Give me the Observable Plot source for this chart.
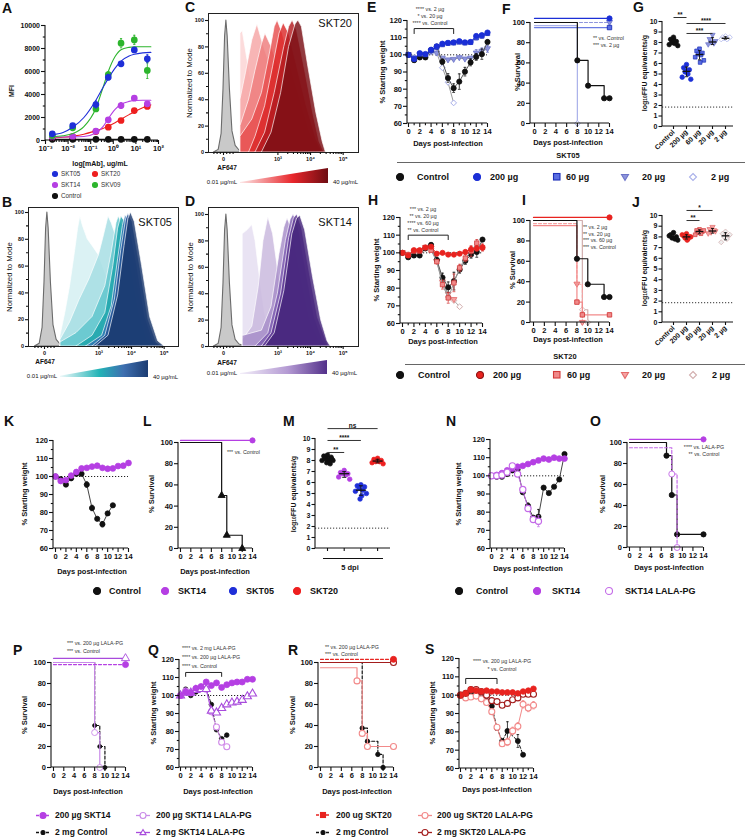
<!DOCTYPE html>
<html>
<head>
<meta charset="utf-8">
<script src="https://cdn.jsdelivr.net/npm/d3@7"></script>
<script src="https://cdn.jsdelivr.net/npm/@observablehq/plot@0.6"></script>
<style>
html,body{margin:0;padding:0;background:#fff;}
#root{position:relative;width:745px;height:840px;overflow:hidden;background:#fff;font-family:'Liberation Sans',Arial,Helvetica,sans-serif;color:#111;}
.t{position:absolute;white-space:nowrap;line-height:1;}
.t sub{font-size:70%;vertical-align:-0.2em;line-height:0;}
</style>
</head>
<body>
<div id="root"></div>
<script>
// ======================= DATA =======================
// Panel A (MFI binding curves)
const A_conc = [0.002, 0.016, 0.17, 0.6, 2.2, 8.5, 32];
const A_SKT05 = [580, 1300, 3130, 5500, 6670, 7880, 7100];
const A_SKT05_err = [80, 120, 300, 250, 150, 200, 350];
const A_SKV09 = [430, 1100, 2750, 5740, 8460, 8750, 6090];
const A_SKV09_err = [60, 100, 150, 250, 400, 400, 700];
const A_SKT14 = [290, 350, 810, 1800, 3040, 3680, 3190];
const A_SKT14_err = [40, 40, 80, 150, 250, 150, 120];
const A_SKT20 = [290, 350, 780, 1160, 1740, 2600, 2960];
const A_SKT20_err = [40, 40, 60, 80, 100, 100, 150];
const A_Control = [100, 100, 100, 100, 100, 100, 100];
const A_fitConc = [0.0018, 0.006, 0.016, 0.05, 0.17, 0.35, 0.6, 1.2, 2.2, 5, 8.5, 20, 46];
const A_fit_SKT05 = [500, 700, 1150, 2000, 3500, 4600, 5400, 6300, 6900, 7350, 7500, 7620, 7660];
const A_fit_SKV09 = [340, 420, 600, 1200, 2800, 4600, 6000, 7300, 7900, 8100, 8150, 8150, 8150];
const A_fit_SKT14 = [300, 300, 310, 350, 650, 1200, 1900, 2700, 3150, 3400, 3480, 3500, 3500];
const A_fit_SKT20 = [220, 280, 380, 550, 850, 1050, 1250, 1550, 1850, 2250, 2500, 2850, 3100];
const A_ticks = [0.001, 0.01, 0.1, 1, 10, 100];
const A_tickLabels = ["10⁻³", "10⁻²", "10⁻¹", "10⁰", "10¹", "10²"];
const A_yTicks = [0, 2000, 4000, 6000, 8000, 10000];

// Flow histograms (x in display units: 0 = "0", 1.7 = 10³, 2.72 = 10⁴, 3.74 = 10⁵)
const H_ticks = [0, 1.7, 2.72, 3.74];
const H_tickLabels = ["0", "10³", "10⁴", "10⁵"];
const FLOW_isotype = [[-0.3,0],[-0.15,2],[-0.06,14],[0,48],[0.05,88],[0.09,100],[0.13,88],[0.2,48],[0.28,16],[0.38,5],[0.5,1.5],[0.7,0]];
const B_hist = [
  [[0.5,0],[0.5,8],[0.65,25],[0.8,45],[0.95,70],[1.05,88],[1.12,97],[1.2,90],[1.35,80],[1.5,75],[1.7,68],[1.9,55],[2.1,40],[2.3,22],[2.5,8],[2.7,2],[2.9,0]],
  [[0.5,0],[0.5,5],[0.8,18],[1.1,35],[1.4,50],[1.7,68],[1.85,82],[2.0,97],[2.1,92],[2.2,85],[2.4,75],[2.6,50],[2.8,22],[3.0,6],[3.2,0]],
  [[0.5,0],[0.5,3],[1.0,10],[1.5,22],[1.9,45],[2.1,70],[2.25,92],[2.32,97],[2.45,90],[2.7,60],[2.95,25],[3.2,5],[3.4,0]],
  [[1.0,0],[1.5,8],[1.9,25],[2.15,60],[2.3,88],[2.4,97],[2.55,92],[2.8,62],[3.05,25],[3.3,5],[3.5,0]],
  [[1.3,0],[1.8,8],[2.1,30],[2.3,65],[2.45,90],[2.53,98],[2.65,93],[2.9,60],[3.15,22],[3.4,4],[3.6,0]],
  [[1.5,0],[1.9,8],[2.2,35],[2.4,72],[2.55,95],[2.62,99],[2.75,93],[3.0,58],[3.25,20],[3.5,3],[3.7,0]],
  [[1.6,0],[2.0,8],[2.3,38],[2.5,75],[2.62,95],[2.7,100],[2.82,93],[3.05,60],[3.3,22],[3.55,4],[3.75,0]]
];
const C_hist = [
  [[0.53,0],[0.53,90],[0.6,92],[0.75,70],[0.9,50],[1.1,42],[1.3,36],[1.5,30],[1.8,20],[2.1,12],[2.4,6],[2.7,2],[3.0,0]],
  [[0.53,0],[0.53,40],[0.7,60],[0.9,85],[1.06,97],[1.2,85],[1.4,70],[1.6,55],[1.9,38],[2.2,22],[2.5,10],[2.8,3],[3.0,0]],
  [[0.53,0],[0.53,20],[0.8,40],[1.0,62],[1.2,82],[1.31,90],[1.5,80],[1.8,60],[2.1,40],[2.4,20],[2.7,7],[3.0,0]],
  [[0.53,0],[0.53,12],[0.9,25],[1.2,45],[1.45,75],[1.6,95],[1.69,100],[1.85,90],[2.1,65],[2.4,40],[2.7,15],[3.0,3],[3.1,0]],
  [[0.8,0],[1.0,12],[1.3,35],[1.55,65],[1.75,90],[1.88,98],[2.05,90],[2.3,65],[2.6,35],[2.9,10],[3.1,0]],
  [[1.0,0],[1.3,15],[1.6,45],[1.9,80],[2.05,95],[2.16,100],[2.3,92],[2.55,62],[2.8,30],[3.0,8],[3.15,0]],
  [[1.2,0],[1.5,15],[1.8,45],[2.05,80],[2.25,97],[2.34,100],[2.45,95],[2.65,65],[2.9,30],[3.1,8],[3.2,0]]
];
const D_hist = [
  [[0.6,0],[0.6,85],[0.75,88],[0.9,92],[1.0,80],[1.15,50],[1.3,25],[1.45,10],[1.6,3],[1.8,0]],
  [[0.6,0],[0.6,5],[0.9,15],[1.1,45],[1.25,80],[1.4,98],[1.55,85],[1.75,50],[1.95,25],[2.2,10],[2.5,3],[2.8,0]],
  [[0.6,0],[0.6,8],[1.2,12],[1.5,30],[1.75,70],[1.9,90],[2.0,97],[2.15,88],[2.4,55],[2.7,20],[3.0,4],[3.2,0]],
  [[1.0,0],[1.4,10],[1.7,40],[1.95,80],[2.1,96],[2.19,100],[2.35,90],[2.6,55],[2.85,22],[3.1,5],[3.25,0]],
  [[1.2,0],[1.5,10],[1.8,40],[2.05,82],[2.2,97],[2.3,100],[2.45,90],[2.7,55],[2.95,22],[3.2,5],[3.3,0]],
  [[1.3,0],[1.6,10],[1.9,42],[2.15,85],[2.3,97],[2.4,99],[2.55,88],[2.8,52],[3.05,20],[3.25,4],[3.35,0]]
];
const wedgePos = [0, 1];
const wedgeTop = [0.07, 1];

// Weight curves (days 0..14)
const days = [0,1,2,3,4,5,6,7,8,9,10,11,12,13,14];
const dayTicks = [0,2,4,6,8,10,12,14];
const E_Control = [100, 96.9, 98.5, 98.5, 102.7, 104.8, 96.0, 86.5, 80.6, 84.4, 90.2, 95.6, 98.8, 100.4, 107.5];
const E_Control_err = [0, 1, 1, 1, 1, 1, 1.5, 2.5, 2.5, 4.5, 2.5, 2, 2, 3, 1];
const E_200 = [100, 97.5, 101, 100.5, 103, 105, 106.5, 107, 107.3, 108, 107.3, 107.5, 111, 111.5, 113];
const E_60 = [100, 98, 100.5, 100.2, 102.5, 104.5, 106, 106.8, 107, 107.5, 107, 107.3, 110, 111, 112.5];
const E_60_err = [0, 0, 0, 0, 0, 0, 0, 0, 0, 0, 0, 0, 1.2, 1.2, 1.2];
const E_20 = [100, 98, 100, 100, 102, 101, 98, 97, 97.3, 98.3, 97.5, 98, 101, 102, 103.5];
const E_20_err = [0, 0, 0, 0, 0, 0, 0, 0, 0, 0, 0, 0, 2, 2, 2];
const E_2 = [100, 98.5, 99.5, 99.5, 101.5, 101, 92.5, 84, 72, null, null, null, null, null, null];

const H_Control = [100, 97.5, 98.5, 98.5, 102.5, 104.5, 96, 86, 80.5, 84, 90.5, 95.5, 99, 100.5, 107.5];
const H_Control_err = [0, 1, 1, 1, 1, 1, 1.5, 2.5, 3, 5, 2, 2, 2, 3, 1];
const H_200 = [100, 98.5, 101.5, 101.5, 103, 103.5, 99.5, 100, 99, 99, 99.5, 100.5, 102, 102.5, 103];
const H_200_err = [0, 0, 0, 0, 0, 0, 0, 0, 0, 0, 0, 0, 1.5, 1.5, 1.5];
const H_60 = [100, 99, 101, 101, 103, 101.5, 95, 82, 74.5, 83, 91.5, 97, 101, 105.5, 103];
const H_60_err = [0, 0, 0, 0, 0, 0, 1, 2.5, 3, 5, 2, 2, 3, 2, 2];
const H_20 = [100, 98.5, 100.5, 101, 103, 102.5, 95, 83.5, 76.5, 73.5, null, null, null, null, null];
const H_2 = [100, 99, 100.5, 100.5, 103, 102.5, 96, 84, 75, 73, 69.5, null, null, null, null];

const K_Control = [100, 98.5, 95.5, 99, 101.5, 101.5, 95.5, 82.5, 76.5, 73.5, 79.5, 84, null, null, null];
const K_Control_err = [0, 1, 1, 1, 1, 1, 1.5, 1.5, 0.8, 1.5, 1, 0.8, 0, 0, 0];
const K_SKT14 = [100, 97.5, 98, 100.5, 102.5, 104.5, 104.8, 105.5, 106, 104.8, 104.3, 104.5, 105.8, 106, 107.5];

const N_Control = [100, 99.5, 99.5, 101, 103, 103.5, 91, 83.5, 77, 77.5, 93.5, 90.5, 94, 98, 112];
const N_Control_err = [0, 0, 0, 0, 0, 0, 1, 1.5, 0, 4, 0, 0, 0, 0, 0];
const N_SKT14 = [100, 100.5, 101.5, 103, 104, 105, 105.5, 106.5, 107.5, 108.5, 109.5, 109, 110, 109.5, 109.5];
const N_LALA = [100, 100, 100.5, 102, 105.5, 101, 92.5, 82, 76, 75, null, null, null, null, null];
const N_LALA_err = [0, 0, 0, 0, 0, 0, 0, 0, 0, 3, 0, 0, 0, 0, 0];

const Q_SKT14 = [100, 102, 101.5, 104, 105, 107.5, 105.5, 107, 104.5, 106, 107, 107.5, 107.5, 109, 109];
const Q_Control = [100, 103.5, 100, 102, 103.5, 104, 95, 81, 76, 78, null, null, null, null, null];
const Q_LALA200 = [100, 102.5, 101.5, 103.5, 104, 103.5, 91, 82.5, 74, 71.5, null, null, null, null, null];
const Q_LALA2mg = [100, 101.5, 101.5, 103, 103.5, 103.5, 91.5, 90.5, 93, 95, 96, 96.5, 97.5, 99.5, 101];

const S_SKT20 = [100, 101, 103, 102.5, 102, 102.5, 102, 102, 101.5, 101.5, 101.5, 101, 102, 102.5, 103.5];
const S_LALA2mg = [100, 101, 103, 103, 102, 100, 97, 96.5, 94.5, 95.5, 97.5, 98.5, 100.5, 100.5, 100.5];
const S_LALA200 = [100, 98.5, 99, 99.5, 98, 96, 91, 82.5, 73.5, 74.5, 80.5, 83, 95, 93, 94.5];
const S_LALA200_err = [0, 0, 0, 0, 0, 0, 0, 1.5, 1.5, 2, 2, 2, 2, 2, 2];
const S_Control = [100, 100.5, 101, 100.5, 100, 99.5, 94, 82, 75, 80.5, null, 75, 67.5, null, null];
const S_Control_err = [0, 0, 0, 0, 0, 0, 0, 0, 0, 5, 0, 3.5, 0, 0, 0];

// Survival (time points, % survival as drawn)
const F_t_Control = [0, 8, 10, 13, 14], F_s_Control = [100, 62.5, 37.5, 25, 25];
const F_t_200 = [0, 14], F_s_200 = [104, 104];
const F_t_60 = [0, 14], F_s_60 = [95, 95];
const F_t_20 = [0, 14], F_s_20 = [100, 100];
const F_t_2 = [0, 8], F_s_2 = [97, 0];
const I_t_Control = [0, 8, 10, 13, 14], I_s_Control = [100, 62.5, 37.5, 25, 25];
const I_t_200 = [0, 14], I_s_200 = [103, 103];
const I_t_60 = [0, 8, 9, 14], I_s_60 = [95, 20, 7.5, 7.5];
const I_t_20 = [0, 8, 9], I_s_20 = [97, 37.5, 0];
const I_t_2 = [0, 9, 10], I_s_2 = [100, 12.5, 0];
const L_t_Control = [0, 8, 9, 12], L_s_Control = [100, 50, 12.5, 0];
const L_t_SKT14 = [0, 14], L_s_SKT14 = [102, 102];
const O_t_Control = [0, 7, 8, 9, 14], O_s_Control = [100, 87.5, 50, 12.5, 12.5];
const O_t_SKT14 = [0, 14], O_s_SKT14 = [103, 103];
const O_t_LALA = [0, 8, 9], O_s_LALA = [95, 70, 0];
const P_t_SKT14 = [0, 14], P_s_SKT14 = [98, 98];
const P_t_LALA2mg = [0, 14], P_s_LALA2mg = [104, 104];
const P_t_LALA200 = [0, 8, 9], P_s_LALA200 = [100, 33.3, 0];
const P_t_Control = [0, 8, 9, 10], P_s_Control = [100, 40, 20, 0];
const R_t_SKT20 = [0, 14], R_s_SKT20 = [103, 103];
const R_t_LALA2mg = [0, 14], R_s_LALA2mg = [100, 100];
const R_t_LALA200 = [0, 7, 8, 9, 14], R_s_LALA200 = [95, 82.5, 32.5, 20, 20];
const R_t_Control = [0, 8, 9, 11, 12], R_s_Control = [100, 37.5, 25, 12.5, 0];

// Lung titers (log10 FFU equivalents/g)
const G_cats = ["Control", "200 µg", "60 µg", "20 µg", "2 µg"];
const G_Control = [8.5, 8.3, 8.1, 8.0, 7.9, 7.8, 7.7, 8.2];
const G_200 = [5.9, 5.6, 5.4, 5.2, 5.0, 4.7, 4.5, 5.3];
const G_60 = [7.4, 7.2, 7.0, 6.9, 6.8, 6.6, 6.3, 6.1];
const G_20 = [8.7, 8.3, 8.1, 8.0, 7.9, 7.8];
const G_2 = [8.6, 8.5, 8.4, 8.4, 8.3, 8.3, 8.5];
const G_sig = [{a: 0, b: 1, y: 10.38, s: "**"}, {a: 1, b: 4, y: 9.81, s: "****"}, {a: 1, b: 3, y: 8.86, s: "***"}];
const J_cats = ["Control", "200 µg", "60 µg", "20 µg", "2 µg"];
const J_Control = [8.4, 8.2, 8.0, 7.9, 7.8, 8.1, 7.7];
const J_200 = [8.3, 8.1, 8.0, 7.9, 7.8, 8.2, 8.0, 7.7];
const J_60 = [8.7, 8.6, 8.5, 8.4, 8.3, 8.2, 8.6];
const J_20 = [8.9, 8.7, 8.5, 8.4, 8.6, 8.3];
const J_2 = [8.5, 8.3, 8.1, 8.0, 7.8, 7.5, 8.2];
const J_sig = [{a: 1, b: 3, y: 10.47, s: "*"}, {a: 1, b: 2, y: 9.53, s: "**"}];
const M_cats = ["Control", "SKT14", "SKT05", "SKT20"];
const M_Control = [8.5, 8.4, 8.3, 8.2, 8.1, 8.0, 8.0, 7.9, 7.8, 7.7, 8.2, 8.1];
const M_SKT14 = [7.1, 6.9, 6.8, 6.8, 6.7, 6.5, 6.3];
const M_SKT05 = [5.8, 5.7, 5.6, 5.5, 5.3, 5.2, 5.0, 4.8, 4.5];
const M_SKT20 = [8.2, 8.1, 8.0, 7.9, 7.9, 7.8, 7.7, 8.0];
const M_sig = [{a: 0, b: 3, y: 10.9, s: "ns"}, {a: 0, b: 2, y: 9.82, s: "****"}, {a: 0, b: 1, y: 8.73, s: "**"}];

// Bracket annotations
const E_bracket = [[1, 112.4], [1, 115.3], [8, 115.3], [8, 112.4]];
const H_bracket = [[1, 107.5], [1, 110], [8, 110], [8, 107.5]];
const Q_bracket = [[1, 110.6], [1, 112.8], [8, 112.8], [8, 110.6]];
const S_bracket = [[1, 106.3], [1, 109.1], [7, 109.1], [7, 106.3]];

// ======================= STYLE =======================
const FONT = "'Liberation Sans', Arial, Helvetica, sans-serif";
const K_ = "#111";
const C_SKT05 = "#1f2fd8", C_SKT20 = "#ee1f1f", C_SKT14 = "#b53fe3", C_SKV09 = "#2db52d";
const B200 = "#1b2fd6", B60f = "#5a6ee2", B60s = "#1d2fb8", B20f = "#8e95dc", B20s = "#6c74c8", B2s = "#a9b0ea";
const R200 = "#e8231f", R60f = "#f08a8a", R60s = "#d33b3b", R20f = "#f5a3a3", R20s = "#e36a6a", R2s = "#d2aeae";
const LALA14 = "#c46be8", LALA14b = "#a84bdc", PINK = "#f28a8a", DRED = "#a31d1d";
const B_colors = ["#d3eff1", "#a4dde3", "#5ec4cc", "#1aa2aa", "#2f74b2", "#244f95", "#1b386c"];
const C_colors = ["#fbd3d3", "#f5a5a5", "#ee7c7c", "#e64e4e", "#dc2828", "#b31b20", "#7a0f15"];
const D_colors = ["#e4ddf0", "#c8b7dd", "#a68cc8", "#7e5db1", "#5d3793", "#44247a"];
const triDown = {draw(ctx, size) { const r = Math.sqrt(size / Math.PI) * 1.15; ctx.moveTo(-r, -r * 0.7); ctx.lineTo(r, -r * 0.7); ctx.lineTo(0, r); ctx.closePath(); }};

// ======================= HELPERS =======================
const root = document.getElementById("root");
function put(node, L, T) { node.style.position = "absolute"; node.style.left = L + "px"; node.style.top = T + "px"; root.appendChild(node); return node; }
function txt(html, x, y, o = {}) {
  const d = document.createElement("div");
  d.className = "t"; d.innerHTML = html;
  d.style.fontSize = (o.size || 8) + "px";
  d.style.fontWeight = o.bold === false ? "normal" : "bold";
  d.style.color = o.color || "#111";
  d.style.left = x + "px"; d.style.top = y + "px";
  const a = o.anchor || "start";
  const tx = a === "middle" ? "-50%" : a === "end" ? "-100%" : "0";
  d.style.transform = o.rotate ? "translate(-50%,-50%) rotate(-90deg)" : `translate(${tx},-50%)`;
  root.appendChild(d); return d;
}
function hline(x1, x2, y, color = "#444", w = 1) {
  const d = document.createElement("div");
  d.style.cssText = `position:absolute;left:${x1}px;top:${y}px;width:${x2 - x1}px;height:0;border-top:${w}px solid ${color};`;
  root.appendChild(d);
}
function lin(v0, p0, v1, p1, f0, f1) {
  const k = (p1 - p0) / (v1 - v0);
  return {domain: [v0 + (f0 - p0) / k, v0 + (f1 - p0) / k], range: [f0, f1]};
}
function mk({L, T, W, H, frame, x, y, marks}) {
  const [fl, ft, fr, fb] = frame;
  const xs = {...x, range: x.range.map(v => v - L)};
  const ys = {...y, range: y.range.map(v => v - T)};
  const svg = Plot.plot({
    width: W, height: H,
    marginLeft: fl - L, marginTop: ft - T, marginRight: L + W - fr, marginBottom: T + H - fb,
    x: xs, y: ys,
    style: {fontFamily: FONT, background: "transparent", overflow: "visible", color: "#111"},
    marks
  });
  put(svg, L, T);
  return svg;
}
function axisLines(left = true, bottom = true) {
  return function (...args) {
    const dim = args.find(a => a && typeof a === "object" && "marginLeft" in a && "width" in a);
    const {width, height, marginLeft: ml, marginRight: mr, marginTop: mt, marginBottom: mb} = dim;
    const g = d3.create("svg:g").attr("stroke", "#111").attr("stroke-width", 1.1).attr("fill", "none");
    if (left) g.append("line").attr("x1", ml).attr("x2", ml).attr("y1", mt).attr("y2", height - mb);
    if (bottom) g.append("line").attr("x1", ml).attr("x2", width - mr).attr("y1", height - mb).attr("y2", height - mb);
    return g.node();
  };
}
const AXS = {stroke: "#111", strokeWidth: 1.1, fontWeight: "bold", fontFamily: FONT, label: null};
const plain = d => String(d);
function axY(ticks, o = {}) {
  const m = [Plot.axisY({...AXS, ticks, tickSize: o.ts ?? 4, tickPadding: o.tp ?? 1.5, fontSize: o.size ?? 7.5, tickFormat: o.fmt ?? plain})];
  if (o.minor) m.push(Plot.axisY({...AXS, ticks: o.minor, tickSize: o.mts ?? 2.2, tickFormat: () => ""}));
  return m;
}
function axX(ticks, o = {}) {
  const m = [Plot.axisX({...AXS, ticks, tickSize: o.ts ?? 4, tickPadding: o.tp ?? 1.5, fontSize: o.size ?? 7.5, tickFormat: o.fmt ?? plain, tickRotate: o.rot ?? 0})];
  if (o.minor) m.push(Plot.axisX({...AXS, ticks: o.minor, tickSize: o.mts ?? 2.2, tickFormat: () => ""}));
  return m;
}
function seriesMarks(vals, o) {
  const rows = days.map((d, i) => ({d, v: vals[i], e: o.err ? o.err[i] : 0})).filter(r => r.v != null);
  const eb = rows.filter(r => r.e > 0);
  const ec = o.stroke;
  return [
    Plot.ruleX(eb, {x: "d", y1: r => r.v - r.e, y2: r => r.v + r.e, stroke: ec, strokeWidth: 0.8}),
    Plot.link(eb, {x1: r => r.d - 0.25, x2: r => r.d + 0.25, y1: r => r.v + r.e, y2: r => r.v + r.e, stroke: ec, strokeWidth: 0.8}),
    Plot.link(eb, {x1: r => r.d - 0.25, x2: r => r.d + 0.25, y1: r => r.v - r.e, y2: r => r.v - r.e, stroke: ec, strokeWidth: 0.8}),
    Plot.line(rows, {x: "d", y: "v", stroke: o.line || o.stroke, strokeWidth: 1, strokeDasharray: o.dash}),
    Plot.dot(rows, {x: "d", y: "v", r: o.r || 2.6, symbol: o.symbol || "circle", fill: o.fill, stroke: o.stroke, strokeWidth: o.sw || 0.8})
  ];
}
function weightPanel(p, list, extra = []) {
  const x = lin(0, p.x0, 14, p.x14, p.frame[0], p.frame[2]);
  const y = lin(60, p.y60, 120, p.y120, p.frame[3], p.frame[1]);
  const marks = [
    Plot.ruleY([100], {x1: 0, x2: 14, stroke: "#222", strokeWidth: 1, strokeDasharray: "1.2,1.8"}),
    ...extra.map(b => Plot.line(b, {x: d => d[0], y: d => d[1], stroke: "#222", strokeWidth: 1})),
    ...list.flatMap(([vals, o]) => seriesMarks(vals, o)),
    axisLines(),
    ...axY([60, 70, 80, 90, 100, 110, 120], {minor: [65, 75, 85, 95, 105, 115]}),
    ...axX(dayTicks, {minor: [1, 3, 5, 7, 9, 11, 13]})
  ];
  return mk({...p, x, y, marks});
}
function survMarks(t, s, o) {
  const rows = t.map((v, i) => ({t: v, s: s[i]}));
  return [
    Plot.line(rows, {x: "t", y: "s", curve: "step-after", stroke: o.stroke, strokeWidth: o.w || 1.2, strokeDasharray: o.dash}),
    Plot.dot(rows.slice(1), {x: "t", y: "s", r: o.r || 2.6, symbol: o.symbol || "circle", fill: o.fill, stroke: o.dotStroke || o.stroke, strokeWidth: o.sw || 0.9})
  ];
}
function survPanel(p, list) {
  const x = lin(0, p.x0, 14, p.x14, p.frame[0], p.frame[2]);
  const y = lin(0, p.y0, 100, p.y100, p.frame[3], p.frame[1]);
  const marks = [...list.flatMap(([t, s, o]) => survMarks(t, s, o)), axisLines(), ...axY([0, 20, 40, 60, 80, 100]), ...axX(dayTicks)];
  return mk({...p, x, y, marks});
}
const JIT = [0, -0.22, 0.22, -0.11, 0.11, -0.33, 0.33, 0.05, -0.05, 0.16, -0.16, 0.27];
function dotPanel(p, groups, cats, sig, o = {}) {
  const x = lin(0, p.i0, 1, p.i0 + p.di, p.frame[0], p.frame[2]);
  const y = lin(0, p.y0, 10, p.y10, p.frame[3], p.frame[1]);
  const stats = groups.map(([vals], i) => {
    const mean = d3.mean(vals), sd = d3.deviation(vals);
    return {i, med: d3.median(vals), lo: mean - sd, hi: mean + sd};
  });
  const marks = [
    Plot.ruleY([1.85], {stroke: "#333", strokeDasharray: "1.2,1.8", strokeWidth: 1}),
    ...groups.map(([vals, g], gi) => Plot.dot(vals.map((v, j) => ({x: gi + JIT[j % JIT.length], v})),
      {x: "x", y: "v", r: g.r || 2.3, symbol: g.symbol || "circle", fill: g.fill, stroke: g.stroke, strokeWidth: 0.7})),
    Plot.ruleX(stats, {x: "i", y1: "lo", y2: "hi", stroke: "#111", strokeWidth: 0.9}),
    Plot.link(stats, {x1: d => d.i - 0.12, x2: d => d.i + 0.12, y1: "hi", y2: "hi", stroke: "#111", strokeWidth: 0.9}),
    Plot.link(stats, {x1: d => d.i - 0.12, x2: d => d.i + 0.12, y1: "lo", y2: "lo", stroke: "#111", strokeWidth: 0.9}),
    Plot.link(stats, {x1: d => d.i - 0.3, x2: d => d.i + 0.3, y1: "med", y2: "med", stroke: "#111", strokeWidth: 1.3}),
    Plot.link(sig, {x1: "a", x2: "b", y1: "y", y2: "y", stroke: "#333", strokeWidth: 1}),
    Plot.text(sig, {x: d => (d.a + d.b) / 2, y: "y", text: "s", lineAnchor: "bottom", dy: -0.5, fontSize: 6.5, fontWeight: "bold"}),
    axisLines(),
    ...axY([0, 1, 2, 3, 4, 5, 6, 7, 8, 9, 10], {size: 7, ts: 3.5}),
    ...(o.noLabels ? axX(cats.map((c, i) => i), {fmt: () => "", ts: 3})
                   : axX(cats.map((c, i) => i), {fmt: i => cats[i], rot: -45, size: 7, ts: 3}))
  ];
  return mk({...p, x, y, marks});
}
function histPanel(p, curves, colors) {
  const x = lin(0, p.zero, 1, p.zero + 32, p.frame[0], p.frame[2]);
  const y = lin(0, p.y0, 100, p.y100, p.frame[3], p.frame[1]);
  const minorX = [-0.3, -0.2, -0.1, 0.1, 0.2, 0.3];
  [1.7, 2.72].forEach(b => [2, 3, 4, 5, 6, 7, 8, 9].forEach(k => minorX.push(b + 1.02 * Math.log10(k))));
  const marks = [
    Plot.areaY(FLOW_isotype, {x: d => d[0], y: d => d[1], fill: "#c9c9c9", stroke: "#6b6b6b", strokeWidth: 1.1}),
    ...curves.map((c, i) => Plot.areaY(c, {x: d => d[0], y: d => d[1], fill: colors[i], fillOpacity: 0.82, stroke: "#fff", strokeOpacity: 0.75, strokeWidth: 0.9})),
    Plot.frame({stroke: "#222", strokeWidth: 1}),
    ...axY([0, 20, 40, 60, 80, 100], {size: 5.5, ts: 3, minor: [10, 30, 50, 70, 90], mts: 2}),
    ...axX(H_ticks, {fmt: d => H_tickLabels[H_ticks.indexOf(d)], size: 5.5, ts: 3, minor: minorX, mts: 2})
  ];
  return mk({...p, x, y, marks});
}
function wedge(id, stops, L, T, W, H) {
  const svg = Plot.plot({width: W, height: H, margin: 0, x: {domain: [0, 1], axis: null}, y: {domain: [0, 1], axis: null},
    style: {background: "transparent", overflow: "visible"},
    marks: [Plot.areaY(wedgePos, {x: d => d, y1: 0, y2: (d, i) => wedgeTop[i], fill: "#888"})]});
  const grad = d3.select(svg).insert("defs", ":first-child").append("linearGradient").attr("id", id);
  stops.forEach(([o, c]) => grad.append("stop").attr("offset", o).attr("stop-color", c));
  d3.select(svg).selectAll("path").attr("fill", `url(#${id})`);
  put(svg, L, T);
}
function shapeSVG(type, cx, cy, s, fill, stroke) {
  const r = s / 2;
  const st = `fill="${fill}" stroke="${stroke}" stroke-width="1.1"`;
  if (type === "square") return `<rect x="${cx - r}" y="${cy - r}" width="${s}" height="${s}" ${st}/>`;
  if (type === "tridown") return `<polygon points="${cx - r},${cy - r * 0.7} ${cx + r},${cy - r * 0.7} ${cx},${cy + r}" ${st}/>`;
  if (type === "triangle") return `<polygon points="${cx - r},${cy + r * 0.7} ${cx + r},${cy + r * 0.7} ${cx},${cy - r}" ${st}/>`;
  if (type === "diamond") return `<polygon points="${cx},${cy - r} ${cx + r},${cy} ${cx},${cy + r} ${cx - r},${cy}" ${st}/>`;
  return `<circle cx="${cx}" cy="${cy}" r="${r}" ${st}/>`;
}
function legMark(x, y, type, fill, stroke, s = 7, line = null, dash = null, w = 14) {
  const W = line ? w : s + 3, H = s + 3;
  let inner = line ? `<line x1="0" x2="${W}" y1="${H / 2}" y2="${H / 2}" stroke="${line}" stroke-width="1.3" ${dash ? `stroke-dasharray="${dash}"` : ""}/>` : "";
  inner += shapeSVG(type, W / 2, H / 2, s, fill, stroke);
  const d = document.createElement("div");
  d.style.cssText = `position:absolute;left:${x - W / 2}px;top:${y - H / 2}px;width:${W}px;height:${H}px;`;
  d.innerHTML = `<svg width="${W}" height="${H}" style="display:block;overflow:visible">${inner}</svg>`;
  root.appendChild(d);
}

// ======================= PANEL A =======================
{
  const x = {type: "log", domain: [0.001, 100], range: [45, 158]};
  const y = lin(0, 140, 10000, 25, 140, 25);
  const sets = [
    [A_Control, null, null, K_],
    [A_SKT20, A_SKT20_err, A_fit_SKT20, C_SKT20],
    [A_SKT14, A_SKT14_err, A_fit_SKT14, C_SKT14],
    [A_SKV09, A_SKV09_err, A_fit_SKV09, C_SKV09],
    [A_SKT05, A_SKT05_err, A_fit_SKT05, C_SKT05]
  ];
  const marks = [];
  sets.forEach(([vals, err, fit, col]) => {
    const rows = A_conc.map((c, i) => ({c, v: vals[i], e: err ? err[i] : 0}));
    if (fit) marks.push(Plot.line(A_fitConc.map((c, i) => ({c, v: fit[i]})), {x: "c", y: "v", stroke: col, strokeWidth: 1.1, curve: "monotone-x"}));
    else marks.push(Plot.line(rows, {x: "c", y: "v", stroke: col, strokeWidth: 1.1}));
    const eb = rows.filter(r => r.e > 0);
    marks.push(Plot.ruleX(eb, {x: "c", y1: r => r.v - r.e, y2: r => r.v + r.e, stroke: col, strokeWidth: 0.9}));
    marks.push(Plot.link(eb, {x1: r => r.c / 1.12, x2: r => r.c * 1.12, y1: r => r.v + r.e, y2: r => r.v + r.e, stroke: col, strokeWidth: 0.9}));
    marks.push(Plot.link(eb, {x1: r => r.c / 1.12, x2: r => r.c * 1.12, y1: r => r.v - r.e, y2: r => r.v - r.e, stroke: col, strokeWidth: 0.9}));
    marks.push(Plot.dot(rows, {x: "c", y: "v", r: 2.6, fill: col, stroke: col}));
  });
  const minorA = [];
  [-3, -2, -1, 0, 1].forEach(d => [2, 3, 4, 5, 6, 7, 8, 9].forEach(k => minorA.push(k * Math.pow(10, d))));
  marks.push(axisLines(),
    ...axY(A_yTicks, {size: 7, minor: [1000, 3000, 5000, 7000, 9000]}),
    ...axX(A_ticks, {fmt: d => A_tickLabels[A_ticks.indexOf(d)], size: 7.5, minor: minorA, mts: 2}));
  mk({L: 0, T: 15, W: 170, H: 160, frame: [45, 25, 158, 140], x, y, marks});
}
txt("MFI", 11, 91, {size: 7, rotate: true});
txt("log[mAb], ug/mL", 100, 163, {size: 7, anchor: "middle"});
legMark(55, 174, "circle", C_SKT05, C_SKT05, 5); txt("SKT05", 61, 174, {size: 6.3, bold: false, color: "#333"});
legMark(95, 174, "circle", C_SKT20, C_SKT20, 5); txt("SKT20", 101, 174, {size: 6.3, bold: false, color: "#333"});
legMark(55, 185, "circle", C_SKT14, C_SKT14, 5); txt("SKT14", 61, 185, {size: 6.3, bold: false, color: "#333"});
legMark(95, 185, "circle", C_SKV09, C_SKV09, 5); txt("SKV09", 101, 185, {size: 6.3, bold: false, color: "#333"});
legMark(55, 196, "circle", K_, K_, 5); txt("Control", 61, 196, {size: 6.3, bold: false, color: "#333"});

// ======================= PANELS B, C, D =======================
histPanel({L: 0, T: 195, W: 185, H: 185, frame: [28, 207, 178, 346], zero: 44, y0: 346, y100: 212}, B_hist, B_colors);
histPanel({L: 180, T: 5, W: 185, H: 170, frame: [208, 13, 358, 152], zero: 223, y0: 152, y100: 20}, C_hist, C_colors);
histPanel({L: 180, T: 195, W: 185, H: 185, frame: [208, 207, 358, 346], zero: 223, y0: 346, y100: 214}, D_hist, D_colors);
wedge("gB", [[0, "#eef9fa"], [0.45, "#22b3b6"], [0.72, "#3e6fb0"], [1, "#1c3c72"]], 60, 360, 88, 17);
wedge("gC", [[0, "#fde7e7"], [0.6, "#e8262b"], [1, "#6e0c12"]], 240, 168, 88, 15);
wedge("gD", [[0, "#f3eff9"], [0.55, "#b49ad3"], [1, "#53308a"]], 240, 360, 87, 14);
txt("Normalized to Mode", 10, 277, {size: 7.8, bold: false, rotate: true});
txt("Normalized to Mode", 190, 83, {size: 7.8, bold: false, rotate: true});
txt("Normalized to Mode", 191, 277, {size: 7.8, bold: false, rotate: true});
txt("SKT05", 172, 222, {size: 11, bold: false, anchor: "end"});
txt("SKT20", 352, 23, {size: 11, bold: false, anchor: "end"});
txt("SKT14", 352, 222, {size: 11, bold: false, anchor: "end"});
txt("AF647", 45, 362, {size: 6.5, anchor: "middle"});
txt("AF647", 227, 168, {size: 6.5, anchor: "middle"});
txt("AF647", 227, 363, {size: 6.5, anchor: "middle"});
txt("0.01 µg/mL", 57, 376, {size: 6, bold: false, anchor: "end"});
txt("0.01 µg/mL", 237, 182, {size: 6, bold: false, anchor: "end"});
txt("0.01 µg/mL", 237, 373, {size: 6, bold: false, anchor: "end"});
txt("40 µg/mL", 153, 377, {size: 6, bold: false});
txt("40 µg/mL", 333, 182, {size: 6, bold: false});
txt("40 µg/mL", 332, 373, {size: 6, bold: false});

// ======================= PANELS E, F, G (SKT05) =======================
weightPanel({L: 370, T: 0, W: 125, H: 150, frame: [407, 20, 487, 123], x0: 408, x14: 487, y60: 123, y120: 20}, [
  [E_2, {stroke: B2s, line: "#9a9a9a", fill: "#fff", symbol: "diamond2", sw: 1}],
  [E_20, {stroke: B20s, line: "#8a8a8a", fill: B20f, symbol: triDown, err: E_20_err}],
  [E_Control, {stroke: K_, line: "#555", fill: K_, err: E_Control_err}],
  [E_60, {stroke: B60s, fill: B60f, symbol: "square", err: E_60_err, r: 2.5}],
  [E_200, {stroke: B200, fill: B200}]
], [E_bracket]);
txt("% Starting weight", 383, 72, {size: 7.5, rotate: true});
txt("Days post-infection", 448, 144, {size: 7.5, anchor: "middle"});
["**** vs. 2 µg", "* vs. 20 µg", "**** vs. Control"].forEach((s, i) => txt(s, 430, 10 + 7 * i, {size: 5.3, bold: false, anchor: "middle", color: "#333"}));

survPanel({L: 505, T: 0, W: 120, H: 150, frame: [530, 22, 609, 123], x0: 534, x14: 609, y0: 123, y100: 22}, [
  [F_t_2, F_s_2, {stroke: B2s, fill: "#fff", symbol: "diamond2"}],
  [F_t_20, F_s_20, {stroke: B20f, dash: "3,2", fill: B20f, dotStroke: B20s, symbol: triDown}],
  [F_t_60, F_s_60, {stroke: "#6a7be2", fill: B60f, dotStroke: B60s, symbol: "square", r: 2.5}],
  [F_t_Control, F_s_Control, {stroke: K_, fill: K_}],
  [F_t_200, F_s_200, {stroke: B200, fill: B200}]
]);
txt("% Survival", 518, 72, {size: 7.5, rotate: true});
txt("Days post-infection", 568, 143, {size: 7.5, anchor: "middle"});
txt("** vs. Control", 593, 39, {size: 5.3, bold: false, color: "#333"});
txt("*** vs. 2 µg", 593, 46, {size: 5.3, bold: false, color: "#333"});

dotPanel({L: 630, T: 0, W: 115, H: 160, frame: [662, 21, 733, 126], i0: 673, di: 13, y0: 126, y10: 21}, [
  [G_Control, {fill: K_, stroke: K_}],
  [G_200, {fill: B200, stroke: B200}],
  [G_60, {fill: B60f, stroke: B60s, symbol: "square", r: 2.1}],
  [G_20, {fill: B20f, stroke: B20s, symbol: triDown}],
  [G_2, {fill: "#fff", stroke: B2s, symbol: "diamond2"}]
], G_cats, G_sig);
txt("log<sub>10</sub>FFU equivalents/g", 644, 73, {size: 7, rotate: true});

txt("SKT05", 568, 156, {size: 7.5, anchor: "middle"});
hline(397, 745, 162, "#666", 1);
legMark(400, 177, "circle", K_, K_, 7); txt("Control", 417, 177, {size: 9});
legMark(477, 177, "circle", B200, B200, 7); txt("200 µg", 490, 177, {size: 9});
legMark(557, 177, "square", B60f, B60s, 6.5); txt("60 µg", 566, 177, {size: 9});
legMark(625, 177, "tridown", B20f, B20s, 7); txt("20 µg", 642, 177, {size: 9});
legMark(693, 177, "diamond", "#fff", B2s, 7); txt("2 µg", 711, 177, {size: 9});

// ======================= PANELS H, I, J (SKT20) =======================
weightPanel({L: 365, T: 195, W: 125, H: 155, frame: [400, 217, 482, 323], x0: 402, x14: 482, y60: 323, y120: 217}, [
  [H_2, {stroke: R2s, line: "#aaa", fill: "#fff", symbol: "diamond2", sw: 1}],
  [H_20, {stroke: R20s, line: "#999", fill: R20f, symbol: triDown}],
  [H_Control, {stroke: K_, line: "#555", fill: K_, err: H_Control_err}],
  [H_60, {stroke: R60s, line: "#999", fill: R60f, symbol: "square", err: H_60_err, r: 2.5}],
  [H_200, {stroke: R200, fill: R200, err: H_200_err}]
], [H_bracket]);
txt("% Starting weight", 377, 270, {size: 7.5, rotate: true});
txt("Days post-infection", 443, 342, {size: 7.5, anchor: "middle"});
["*** vs. 2 µg", "** vs. 20 µg", "**** vs. 60 µg", "** vs. Control"].forEach((s, i) => txt(s, 423, 210 + 7 * i, {size: 5.3, bold: false, anchor: "middle", color: "#333"}));

survPanel({L: 505, T: 195, W: 120, H: 155, frame: [530, 220, 609, 322], x0: 533, x14: 609, y0: 322, y100: 220}, [
  [I_t_2, I_s_2, {stroke: R2s, fill: "#fff", symbol: "diamond2"}],
  [I_t_20, I_s_20, {stroke: R20f, dash: "3,2", fill: R20f, dotStroke: R20s, symbol: triDown}],
  [I_t_60, I_s_60, {stroke: PINK, fill: R60f, dotStroke: R60s, symbol: "square", r: 2.5}],
  [I_t_Control, I_s_Control, {stroke: K_, fill: K_}],
  [I_t_200, I_s_200, {stroke: R200, fill: R200}]
]);
txt("% Survival", 513, 270, {size: 7.5, rotate: true});
txt("Days post-infection", 568, 340, {size: 7.5, anchor: "middle"});
["** vs. 2 µg", "** vs. 20 µg", "*** vs. 60 µg", "*** vs. Control"].forEach((s, i) => txt(s, 583, 228 + 6.7 * i, {size: 5.3, bold: false, color: "#333"}));

dotPanel({L: 630, T: 195, W: 115, H: 160, frame: [662, 215, 733, 322], i0: 673, di: 13, y0: 322, y10: 215}, [
  [J_Control, {fill: K_, stroke: K_}],
  [J_200, {fill: R200, stroke: R200}],
  [J_60, {fill: R60f, stroke: R60s, symbol: "square", r: 2.1}],
  [J_20, {fill: R20f, stroke: R20s, symbol: triDown}],
  [J_2, {fill: "#eee", stroke: R2s, symbol: "diamond2"}]
], J_cats, J_sig);
txt("log<sub>10</sub>FFU equivalents/g", 644, 268, {size: 7, rotate: true});

txt("SKT20", 565, 357, {size: 7.5, anchor: "middle"});
hline(405, 745, 364, "#666", 1);
legMark(400, 375, "circle", K_, K_, 7); txt("Control", 418, 375, {size: 9});
legMark(480, 375, "circle", R200, "#8a1010", 7); txt("200 µg", 493, 375, {size: 9});
legMark(557, 375, "square", R60f, R60s, 6.5); txt("60 µg", 567, 375, {size: 9});
legMark(625, 375, "tridown", R20f, R20s, 7); txt("20 µg", 642, 375, {size: 9});
legMark(693, 375, "diamond", "#fff", R2s, 7); txt("2 µg", 712, 375, {size: 9});

// ======================= PANELS K, L, M =======================
weightPanel({L: 0, T: 425, W: 140, H: 160, frame: [53, 440, 128, 548], x0: 55, x14: 128, y60: 548, y120: 440}, [
  [K_Control, {stroke: K_, line: "#444", fill: K_, err: K_Control_err}],
  [K_SKT14, {stroke: C_SKT14, fill: C_SKT14, r: 2.9}]
]);
txt("% Starting weight", 25, 494, {size: 7.5, rotate: true});
txt("Days post-infection", 92, 572, {size: 7.5, anchor: "middle"});

survPanel({L: 140, T: 425, W: 125, H: 160, frame: [178, 442, 252, 548], x0: 180, x14: 252, y0: 548, y100: 442}, [
  [L_t_Control, L_s_Control, {stroke: K_, fill: K_, symbol: "triangle"}],
  [L_t_SKT14, L_s_SKT14, {stroke: C_SKT14, fill: C_SKT14}]
]);
txt("% Survival", 152, 494, {size: 7.5, rotate: true});
txt("Days post-infection", 215, 572, {size: 7.5, anchor: "middle"});
txt("*** vs. Control", 227, 453, {size: 5.3, bold: false, color: "#333"});

dotPanel({L: 280, T: 420, W: 115, H: 165, frame: [315, 438, 390, 548], i0: 327, di: 16.7, y0: 548, y10: 438}, [
  [M_Control, {fill: K_, stroke: K_}],
  [M_SKT14, {fill: C_SKT14, stroke: C_SKT14}],
  [M_SKT05, {fill: C_SKT05, stroke: C_SKT05}],
  [M_SKT20, {fill: C_SKT20, stroke: C_SKT20}]
], M_cats, M_sig, {noLabels: true});
txt("log<sub>10</sub>FFU equivalents/g", 293, 494, {size: 7, rotate: true});
hline(323, 383, 558, "#111", 1);
txt("5 dpi", 350, 568, {size: 7.5, anchor: "middle"});

legMark(97, 591, "circle", K_, K_, 7); txt("Control", 109, 591, {size: 9});
legMark(165, 591, "circle", C_SKT14, C_SKT14, 7); txt("SKT14", 178, 591, {size: 9});
legMark(233, 591, "circle", C_SKT05, C_SKT05, 7); txt("SKT05", 246, 591, {size: 9});
legMark(297, 591, "circle", C_SKT20, C_SKT20, 7); txt("SKT20", 310, 591, {size: 9});

// ======================= PANELS N, O =======================
weightPanel({L: 445, T: 425, W: 125, H: 160, frame: [490, 439, 564, 548], x0: 491, x14: 564, y60: 548, y120: 439}, [
  [N_Control, {stroke: K_, line: "#444", fill: K_, err: N_Control_err}],
  [N_SKT14, {stroke: C_SKT14, fill: C_SKT14, r: 2.9}],
  [N_LALA, {stroke: LALA14, fill: "#fff", r: 3.1, sw: 1.2, err: N_LALA_err}]
]);
txt("% Starting weight", 459, 494, {size: 7.5, rotate: true});
txt("Days post-infection", 528, 569, {size: 7.5, anchor: "middle"});

survPanel({L: 590, T: 425, W: 150, H: 160, frame: [627, 442, 703, 547], x0: 629, x14: 703, y0: 547, y100: 442}, [
  [O_t_Control, O_s_Control, {stroke: K_, fill: K_}],
  [O_t_LALA, O_s_LALA, {stroke: LALA14, dash: "3,2", fill: "#fff", r: 3}],
  [O_t_SKT14, O_s_SKT14, {stroke: C_SKT14, fill: C_SKT14}]
]);
txt("% Survival", 603, 494, {size: 7.5, rotate: true});
txt("Days post-infection", 669, 568, {size: 7.5, anchor: "middle"});
txt("**** vs. LALA-PG", 704, 448, {size: 5.3, bold: false, anchor: "middle", color: "#333"});
txt("** vs. Control", 704, 455, {size: 5.3, bold: false, anchor: "middle", color: "#333"});

legMark(459, 591, "circle", K_, K_, 7); txt("Control", 476, 591, {size: 9});
legMark(537, 591, "circle", C_SKT14, C_SKT14, 7); txt("SKT14", 552, 591, {size: 9});
legMark(609, 591, "circle", "#fff", LALA14, 7); txt("SKT14 LALA-PG", 625, 591, {size: 9});

// ======================= PANELS P, Q, R, S =======================
survPanel({L: 0, T: 640, W: 140, H: 165, frame: [51, 662, 125, 767], x0: 53, x14: 125, y0: 767, y100: 662}, [
  [P_t_Control, P_s_Control, {stroke: K_, dash: "3,2", fill: K_, r: 2}],
  [P_t_LALA200, P_s_LALA200, {stroke: "#c98ae8", fill: "#fff", r: 3}],
  [P_t_SKT14, P_s_SKT14, {stroke: C_SKT14, dash: "3,2", fill: C_SKT14, r: 3}],
  [P_t_LALA2mg, P_s_LALA2mg, {stroke: LALA14b, fill: "#fff", symbol: "triangle", r: 3}]
]);
txt("% Survival", 25, 715, {size: 7.5, rotate: true});
txt("Days post-infection", 88, 792, {size: 7.5, anchor: "middle"});
txt("*** vs. 200 µg LALA-PG", 67, 644, {size: 5.3, bold: false, color: "#333"});
txt("*** vs. Control", 67, 652, {size: 5.3, bold: false, color: "#333"});

weightPanel({L: 140, T: 640, W: 125, H: 165, frame: [179, 659, 252, 767], x0: 180, x14: 252, y60: 767, y120: 659}, [
  [Q_Control, {stroke: K_, fill: K_, dash: "3,2", r: 2.3}],
  [Q_LALA200, {stroke: "#d08ae8", fill: "#fff", r: 3, sw: 1.1}],
  [Q_LALA2mg, {stroke: LALA14b, fill: "#fff", symbol: "triangle", r: 3, sw: 1.1}],
  [Q_SKT14, {stroke: C_SKT14, fill: C_SKT14, dash: "3,2", r: 3}]
], [Q_bracket]);
txt("% Starting weight", 154, 713, {size: 7.5, rotate: true});
txt("Days post-infection", 218, 792, {size: 7.5, anchor: "middle"});
["**** vs. 2 mg LALA-PG", "**** vs. 200 µg LALA-PG", "**** vs. Control"].forEach((s, i) => txt(s, 182, 649 + 9 * i, {size: 5.3, bold: false, color: "#333"}));

survPanel({L: 285, T: 640, W: 120, H: 165, frame: [318, 662, 393, 767], x0: 320, x14: 393, y0: 767, y100: 662}, [
  [R_t_Control, R_s_Control, {stroke: K_, dash: "3,2", fill: K_, r: 2.2}],
  [R_t_LALA200, R_s_LALA200, {stroke: PINK, fill: "#fff", r: 3, sw: 1.1}],
  [R_t_LALA2mg, R_s_LALA2mg, {stroke: DRED, fill: "#fff", r: 3, sw: 1.1}],
  [R_t_SKT20, R_s_SKT20, {stroke: R200, dash: "3,2", fill: R200, r: 3}]
]);
txt("% Survival", 293, 715, {size: 7.5, rotate: true});
txt("Days post-infection", 357, 792, {size: 7.5, anchor: "middle"});
txt("** vs. 200 µg LALA-PG", 325, 648, {size: 5.3, bold: false, color: "#333"});
txt("*** vs. Control", 325, 655, {size: 5.3, bold: false, color: "#333"});

weightPanel({L: 425, T: 640, W: 120, H: 165, frame: [459, 658, 533, 768], x0: 460, x14: 533, y60: 768, y120: 658}, [
  [S_Control, {stroke: K_, fill: K_, dash: "3,2", r: 2.5, err: S_Control_err}],
  [S_LALA200, {stroke: PINK, fill: "#fff", r: 3, sw: 1.1, err: S_LALA200_err}],
  [S_LALA2mg, {stroke: DRED, fill: "#fff", r: 3, sw: 1.1}],
  [S_SKT20, {stroke: R200, fill: R200, dash: "3,2", r: 2.8}]
], [S_bracket]);
txt("% Starting weight", 433, 713, {size: 7.5, rotate: true});
txt("Days post-infection", 497, 790, {size: 7.5, anchor: "middle"});
txt("**** vs. 200 µg LALA-PG", 502, 662, {size: 5.3, bold: false, anchor: "middle", color: "#333"});
txt("* vs. Control", 502, 670, {size: 5.3, bold: false, anchor: "middle", color: "#333"});

legMark(43, 815, "circle", C_SKT14, C_SKT14, 6, C_SKT14, "3,2"); txt("200 µg SKT14", 55, 815, {size: 8.5});
legMark(43, 832, "circle", K_, K_, 4, K_, "3,2"); txt("2 mg Control", 55, 832, {size: 8.5});
legMark(143, 815, "circle", "#fff", "#c98ae8", 6, "#c98ae8"); txt("200 µg SKT14 LALA-PG", 156, 815, {size: 8.5});
legMark(143, 832, "triangle", "#fff", LALA14b, 6, LALA14b); txt("2 mg SKT14 LALA-PG", 156, 832, {size: 8.5});
legMark(323, 815, "square", R200, R200, 5, R200, "3,2"); txt("200 ug SKT20", 336, 815, {size: 8.5});
legMark(323, 832, "circle", K_, K_, 4, K_, "3,2"); txt("2 mg Control", 336, 832, {size: 8.5});
legMark(425, 815, "circle", "#fff", PINK, 6, PINK); txt("200 ug SKT20 LALA-PG", 437, 815, {size: 8.5});
legMark(425, 832, "circle", "#fff", DRED, 6, DRED); txt("2 mg SKT20 LALA-PG", 437, 832, {size: 8.5});

// ======================= PANEL LETTERS =======================
[["A", 2, 8], ["B", 2, 202], ["C", 185, 7], ["D", 185, 201], ["E", 367, 7], ["F", 502, 9], ["G", 633, 7],
 ["H", 368, 200], ["I", 522, 200], ["J", 632, 202], ["K", 4, 421], ["L", 143, 421], ["M", 283, 421],
 ["N", 446, 421], ["O", 590, 421], ["P", 13, 650], ["Q", 148, 650], ["R", 288, 650], ["S", 425, 649]]
  .forEach(([s, x, y]) => txt(s, x, y, {size: 14}));
</script>
</body>
</html>
